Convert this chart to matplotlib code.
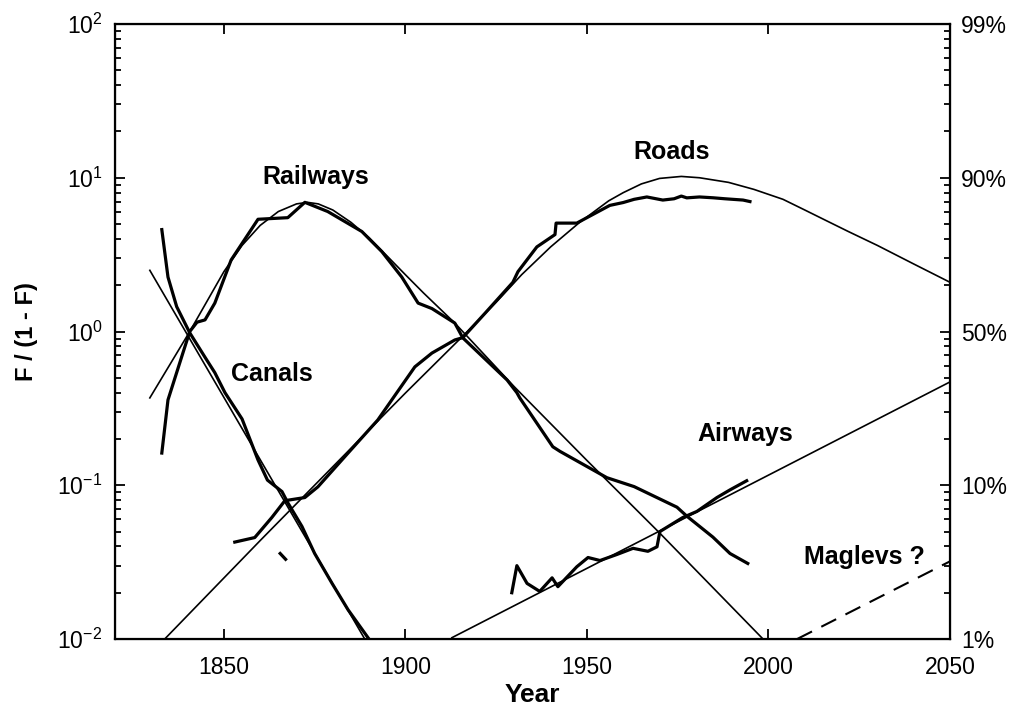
import matplotlib
matplotlib.use('Agg')
from matplotlib import pyplot as plt

plt.rcParams['font.family'] = ['Liberation Sans', 'DejaVu Sans']
plt.rcParams['mathtext.fontset'] = 'custom'
plt.rcParams['mathtext.rm'] = 'Liberation Sans'

# values: year, F/(1-F)
canal_yr = [1832.9, 1834.6, 1837, 1840.6, 1844.8, 1847.5, 1850.3, 1855, 1859.4,
            1862, 1866, 1867.6, 1871.5, 1875, 1879.8, 1884.2, 1889.7]
canal_val = [4.6, 2.26, 1.45, 0.98, 0.68, 0.54, 0.40, 0.27, 0.146,
             0.108, 0.091, 0.077, 0.054, 0.036, 0.023, 0.0155, 0.0102]
canal_fit_yr = [1829.6, 1888.8]
canal_fit_val = [2.5, 0.01]

rail_yr = [1832.9, 1834.6, 1838.7, 1840.6, 1842.6, 1844.8, 1847.5, 1852, 1859.4, 1867.6,
           1872.3, 1878.6, 1888, 1893.5, 1899, 1903.5, 1907.3, 1913.6, 1915.8, 1928,
           1930.7, 1931.5, 1940.6, 1942.6, 1955.5, 1963, 1974.8, 1977.5, 1984.7, 1989.4, 1994.3]
rail_val = [0.162, 0.359, 0.724, 1.0, 1.15, 1.19, 1.53, 2.92, 5.37, 5.5,
            6.92, 6.03, 4.47, 3.31, 2.26, 1.53, 1.41, 1.135, 0.91, 0.484,
            0.40, 0.37, 0.178, 0.166, 0.112, 0.098, 0.072, 0.063, 0.046, 0.036, 0.031]
rail_fit_yr = [1829.6, 1840.6, 1850, 1855, 1860, 1865, 1870, 1873, 1876, 1880, 1885,
               1890, 1895, 1900, 1905, 1913.6, 1930, 1950, 1970, 1998.5]
rail_fit_val = [0.37, 1.0, 2.45, 3.63, 4.9, 6.03, 6.76, 6.92, 6.76, 6.17, 5.13,
                4.07, 3.09, 2.34, 1.78, 1.135, 0.437, 0.145, 0.049, 0.010]

road_yr = [1853, 1858.5, 1863.2, 1866.8, 1872.3, 1875.9, 1884.2, 1892.4, 1902.6, 1907.3,
           1913.6, 1915.8, 1922, 1929.6, 1931, 1936.2, 1941.2, 1941.5, 1947.2, 1956.3,
           1960, 1963, 1966.5, 1970.9, 1974, 1976, 1977.5, 1981, 1984.7, 1988, 1993, 1994.9]
road_val = [0.0427, 0.0457, 0.0617, 0.0794, 0.0832, 0.0977, 0.162, 0.266, 0.589, 0.724,
            0.881, 0.912, 1.32, 2.09, 2.45, 3.55, 4.27, 5.07, 5.07, 6.61,
            6.9, 7.24, 7.5, 7.16, 7.3, 7.6, 7.4, 7.5, 7.41, 7.3, 7.16, 7.0]
road_fit_yr = [1833.7, 1860, 1880, 1900, 1915.8, 1925, 1932, 1940, 1948, 1956, 1960, 1965,
               1970, 1976, 1981, 1989, 1996, 2004, 2010, 2016, 2022, 2030, 2040, 2050]
road_fit_val = [0.01, 0.0437, 0.132, 0.398, 0.933, 1.55, 2.34, 3.55, 5.13, 7.08, 8.0, 9.12,
                9.9, 10.2, 10.0, 9.33, 8.4, 7.24, 6.17, 5.25, 4.47, 3.63, 2.75, 2.09]

air_yr = [1929.3, 1930.7, 1933.5, 1937, 1940.4, 1942, 1947.2, 1950.3, 1953.6, 1958.3,
          1962.7, 1966.8, 1969.3, 1970.1, 1976.4, 1980.3, 1985.8, 1989.4, 1994]
air_val = [0.020, 0.030, 0.023, 0.0204, 0.025, 0.0219, 0.0295, 0.0339, 0.0324, 0.0355,
           0.0389, 0.0372, 0.0398, 0.050, 0.0617, 0.0676, 0.0832, 0.0933, 0.107]
air_fit_yr = [1912.8, 2050]
air_fit_val = [0.0102, 0.47]

maglev_yr = [2007.9, 2050]
maglev_val = [0.01, 0.032]

stray_yr = [1865.5, 1867]
stray_val = [0.036, 0.033]

yticks = [0.01, 0.1, 1, 10, 100]
ylabels_left = [r'$\mathregular{10^{-2}}$', r'$\mathregular{10^{-1}}$', r'$\mathregular{10^{0}}$',
                r'$\mathregular{10^{1}}$', r'$\mathregular{10^{2}}$']
ylabels_right = ['1%', '10%', '50%', '90%', '99%']
xticks = [1850, 1900, 1950, 2000, 2050]

fig = plt.figure(figsize=(10.13, 7.12), dpi=100)
ax = fig.add_axes([0.1135, 0.1025, 0.8243, 0.8638])

thick = 2.3
thin = 1.2
ax.plot(canal_yr, canal_val, 'k', lw=thick)
ax.plot(canal_fit_yr, canal_fit_val, 'k', lw=thin)
ax.plot(rail_yr, rail_val, 'k', lw=thick)
ax.plot(rail_fit_yr, rail_fit_val, 'k', lw=thin)
ax.plot(road_yr, road_val, 'k', lw=thick)
ax.plot(road_fit_yr, road_fit_val, 'k', lw=thin)
ax.plot(air_yr, air_val, 'k', lw=thick)
ax.plot(air_fit_yr, air_fit_val, 'k', lw=thin)
ax.plot(maglev_yr, maglev_val, 'k', lw=thin + 0.3, dashes=(8, 5))
ax.plot(stray_yr, stray_val, 'k', lw=thick)

ax.set_yscale('log')
ax.set_xlim(1820, 2050)
ax.set_ylim(0.01, 100)
ax.set_xticks(xticks)
ax.set_yticks(yticks)
ax.set_yticklabels(ylabels_left)
ax.tick_params(which='both', direction='in', top=True, labelsize=16.5, width=1.3)
ax.tick_params(which='major', length=7, pad=9)
ax.tick_params(which='minor', length=4)
ax.tick_params(axis='x', pad=12)
for s in ax.spines.values():
    s.set_linewidth(1.6)

ax2 = ax.twinx()
ax2.set_yscale('log')
ax2.set_ylim(0.01, 100)
ax2.set_yticks(yticks)
ax2.set_yticklabels(ylabels_right)
ax2.tick_params(which='both', direction='in', labelsize=16.5, width=1.3)
ax2.tick_params(which='major', length=7, pad=8)
ax2.tick_params(which='minor', length=4)

lab = dict(fontsize=18, fontweight='bold', ha='center', va='center')
ax.text(1875.3, 10.1, 'Railways', **lab)
ax.text(1863.2, 0.53, 'Canals', **lab)
ax.text(1973.4, 14.7, 'Roads', **lab)
ax.text(1993.5, 0.215, 'Airways', **lab)
ax.text(2026.3, 0.034, 'Maglevs ?', **lab)

ax.set_xlabel('Year', fontsize=19, fontweight='bold', labelpad=3)
ax.set_ylabel('F / (1 - F)', fontsize=17, fontweight='bold', labelpad=14)

plt.savefig('out.png', dpi=100)
